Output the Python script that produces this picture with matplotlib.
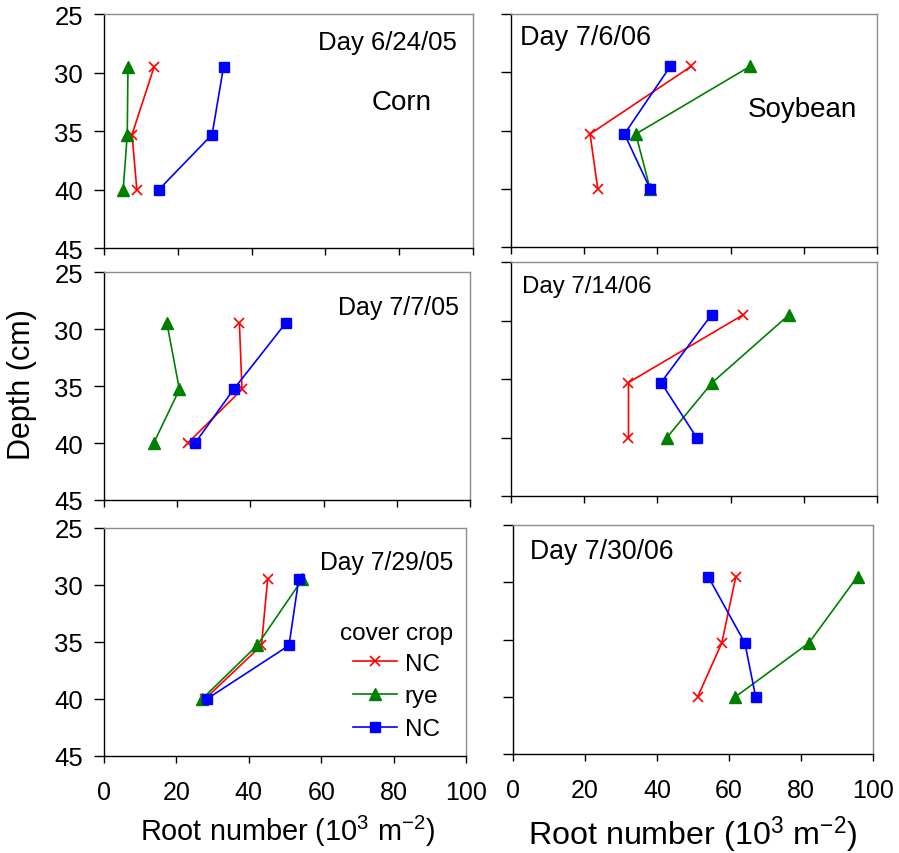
import matplotlib
matplotlib.use('Agg')
import matplotlib.pyplot as plt

plt.rcParams['font.family'] = ['Liberation Sans', 'DejaVu Sans']
plt.rcParams['mathtext.fontset'] = 'custom'
plt.rcParams['mathtext.rm'] = 'Liberation Sans'
plt.rcParams['mathtext.it'] = 'Liberation Sans:italic'

# data (root number, 10^3 m^-2) at three depths
depth = [29.5, 35.3, 40.0]
dates = ['Day 6/24/05', 'Day 7/6/06', 'Day 7/7/05',
         'Day 7/14/06', 'Day 7/29/05', 'Day 7/30/06']
nc_red = [[13.6, 7.6, 8.9], [49.2, 21.6, 23.7], [37.0, 37.7, 22.9],
          [63.5, 32.1, 32.1], [45.2, 43.5, 27.9], [61.9, 58.0, 51.3]]
rye = [[6.5, 6.3, 5.2], [65.3, 34.1, 38.0], [17.2, 20.6, 13.6],
       [76.0, 55.0, 42.6], [54.8, 42.3, 27.1], [95.7, 82.2, 61.8]]
nc_blue = [[32.4, 29.3, 14.9], [43.5, 31.0, 38.0], [49.6, 35.4, 24.9],
           [54.8, 41.0, 50.7], [53.8, 51.1, 28.4], [54.2, 64.4, 67.4]]
xticks = [0, 20, 40, 60, 80, 100]
yticks = [25, 30, 35, 40, 45]

W, H = 899, 854
fig = plt.figure(figsize=(W / 100, H / 100), dpi=100)

# panel boxes in pixels: x0, y0, x1, y1
boxes = [(104, 15, 473, 249), (511, 15, 877, 248),
         (104, 273, 470, 501), (511, 263, 877, 497),
         (104, 529, 466, 757), (513, 526, 873, 755)]
# date label: x, y (axes fraction), ha, size
date_pos = [(0.957, 0.88, 'right', 18.5), (0.025, 0.90, 'left', 19.5),
            (0.971, 0.846, 'right', 18), (0.030, 0.897, 'left', 17.3),
            (0.965, 0.849, 'right', 17.8), (0.046, 0.888, 'left', 19.2)]

axes = []
for i, (x0, y0, x1, y1) in enumerate(boxes):
    ax = fig.add_axes([x0 / W, 1 - y1 / H, (x1 - x0) / W, (y1 - y0) / H])
    axes.append(ax)
    l1, = ax.plot(nc_red[i], depth, color='red', marker='x', ms=7.5, mew=1.2, lw=1.2)
    l2, = ax.plot(rye[i], depth, color='green', marker='^', ms=8.5, lw=1.2)
    l3, = ax.plot(nc_blue[i], depth, color='blue', marker='s', ms=7.8, lw=1.2)
    ax.set_xlim(0, 100)
    ax.set_ylim(45, 25)
    ax.set_xticks(xticks)
    ax.set_yticks(yticks)
    for s in ['left', 'bottom']:
        ax.spines[s].set_color('black')
        ax.spines[s].set_linewidth(1.0)
    for s in ['top', 'right']:
        ax.spines[s].set_color('#8c8c8c')
        ax.spines[s].set_linewidth(1.0)
    ax.tick_params(axis='x', direction='out', length=5, width=1.0, pad=12, labelsize=18)
    ax.tick_params(axis='y', direction='out', length=7, width=1.0, pad=8, labelsize=18.5)
    if i % 2 == 1:
        ax.tick_params(axis='y', labelleft=False)
    if i < 4:
        ax.tick_params(axis='x', labelbottom=False)
    tx, ty, ha, fs = date_pos[i]
    ax.text(tx, ty, dates[i], transform=ax.transAxes, ha=ha, va='center', fontsize=fs)
    if i == 4:
        leg = ax.legend([l1, l2, l3], ['NC', 'rye', 'NC'], title='cover crop',
                        loc='upper center', bbox_to_anchor=(0.808, 0.587),
                        frameon=False, fontsize=17.5, title_fontsize=17.5,
                        handlelength=1.8, handletextpad=0.3, labelspacing=0.45,
                        borderpad=0, borderaxespad=0)
        leg._legend_box.sep = 6

axes[0].text(0.807, 0.624, 'Corn', transform=axes[0].transAxes,
             ha='center', va='center', fontsize=20)
axes[1].text(0.796, 0.592, 'Soybean', transform=axes[1].transAxes,
             ha='center', va='center', fontsize=20)

fig.text(22 / W, 1 - 385 / H, 'Depth (cm)', rotation=90, ha='center', va='center', fontsize=22)
fig.text(287.5 / W, 1 - 831 / H, r'Root number (10$^{3}$ m$^{-2}$)',
         ha='center', va='center', fontsize=20.8)
fig.text(692.5 / W, 1 - 835 / H, r'Root number (10$^{3}$ m$^{-2}$)',
         ha='center', va='center', fontsize=23.2)

fig.savefig('out.png', dpi=100)
